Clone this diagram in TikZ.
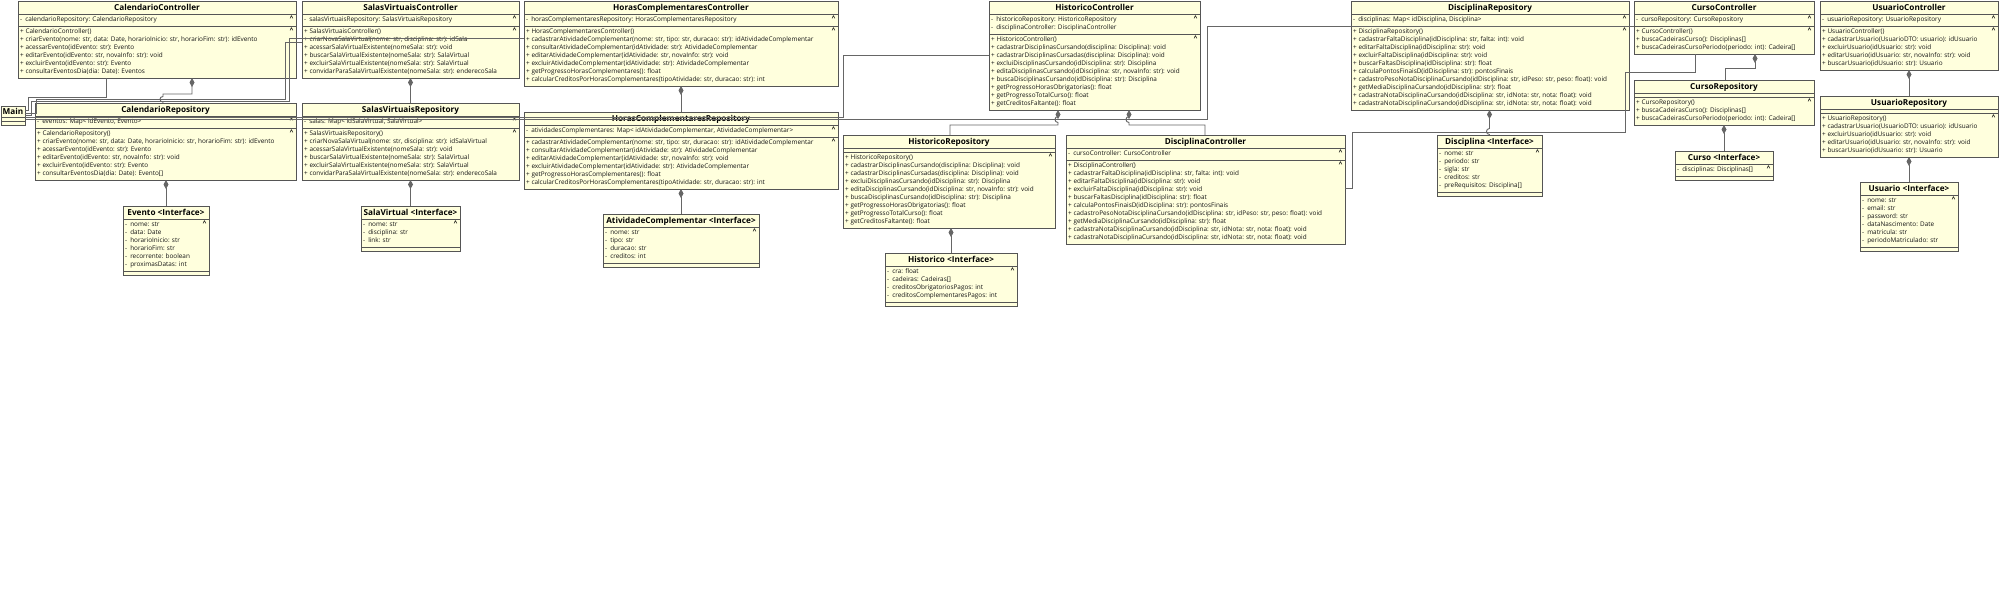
\documentclass[tikz,border=0pt]{standalone}
\usepackage{fontspec}
\setmainfont{Open Sans}
\usetikzlibrary{arrows.meta}
\pgfdeclarelayer{background}
\pgfsetlayers{background,main}
\definecolor{boxfill}{HTML}{FFFFDD}
\definecolor{boxline}{HTML}{555555}
\definecolor{txt}{HTML}{151515}
\definecolor{wire}{HTML}{666666}
\newcommand\titleh{13}
\newcommand\clsbegin[5]{%
  \def\cname{#1}\def\cxa{#2}\def\cya{#3}\def\cxb{#4}%
  \pgfmathsetmacro\cmid{(#2+#4)/2}%
  \pgfmathsetmacro\ctitley{#3+\titleh/2}%
  \node[ctitle] at (\cmid,\ctitley) {#5};%
  \pgfmathsetmacro\ccur{#3+\titleh}%
}
\newcommand\comp[2]{%
  \draw[sepline] (\cxa,\ccur) -- (\cxb,\ccur);%
  \ifnum#1=1\relax\node[caret] at (\cxb-4.5,\ccur+4.2) {\textasciicircum};\fi
  \pgfmathsetmacro\cline{\ccur+5.5}%
  #2%
  \pgfmathsetmacro\ccur{\cline-1.5}%
}
\newcommand\li[1]{\node[row] at (\cxa+2,\cline) {#1};\pgfmathsetmacro\cline{\cline+8}}
\newcommand\uattr[1]{\li{-\hspace{3pt}#1}}
\newcommand\umeth[1]{\li{+ #1}}
\newcommand\clsend{%
  \pgfmathsetmacro\cw{\cxb-\cxa}%
  \pgfmathsetmacro\chh{\ccur-\cya}%
  \begin{pgfonlayer}{background}
    \node[cbox,minimum width=\cw pt,minimum height=\chh pt,anchor=north west] (\cname) at (\cxa,\cya) {};
  \end{pgfonlayer}%
}
\tikzset{
  cbox/.style={fill=boxfill,draw=boxline,line width=0.9pt,inner sep=0pt,outer sep=0pt},
  sepline/.style={draw=boxline,line width=0.7pt},
  ctitle/.style={inner sep=0pt,font=\bfseries\fontsize{8.2}{9}\selectfont,text=black,text height=6pt,text depth=0pt},
  row/.style={anchor=west,inner sep=0pt,font=\fontsize{6.4}{7}\selectfont,text=txt,text height=4.6pt,text depth=1.4pt},
  caret/.style={inner sep=0pt,font=\bfseries\fontsize{6.5}{6.5}\selectfont,text=black},
  conn/.style={draw=wire,line width=0.9pt},
  comp/.style={conn,arrows={Diamond[length=9pt,width=5pt]-}}
}
\begin{document}
\begin{tikzpicture}[x=1pt,y=-1pt]
\begin{pgfonlayer}{background}
\fill[white] (0,0) rectangle (2000,600);
\end{pgfonlayer}
\useasboundingbox (0,0) rectangle (2000,600);

% ---------- Main
\renewcommand\titleh{11}
\clsbegin{main}{1}{106}{25}{Main}
\comp{0}{}\comp{0}{}
\clsend
\renewcommand\titleh{13}

% ---------- Calendario
\clsbegin{ccal}{18}{1}{296}{CalendarioController}
\comp{1}{\uattr{calendarioRepository: CalendarioRepository}}
\comp{1}{\umeth{CalendarioController()}
\umeth{criarEvento(nome: str, data: Date, horarioInicio: str, horarioFim: str): idEvento}
\umeth{acessarEvento(idEvento: str): Evento}
\umeth{editarEvento(idEvento: str, novaInfo: str): void}
\umeth{excluirEvento(idEvento: str): Evento}
\umeth{consultarEventosDia(dia: Date): Eventos}}
\clsend

\clsbegin{rcal}{35}{103}{296}{CalendarioRepository}
\comp{1}{\uattr{eventos: Map< idEvento, Evento>}}
\comp{1}{\umeth{CalendarioRepository()}
\umeth{criarEvento(nome: str, data: Date, horarioInicio: str, horarioFim: str): idEvento}
\umeth{acessarEvento(idEvento: str): Evento}
\umeth{editarEvento(idEvento: str, novaInfo: str): void}
\umeth{excluirEvento(idEvento: str): Evento}
\umeth{consultarEventosDia(dia: Date): Evento[]}}
\clsend

\clsbegin{evento}{123}{206}{209}{Evento <Interface>}
\comp{1}{\uattr{nome: str}\uattr{data: Date}\uattr{horarioInicio: str}\uattr{horarioFim: str}\uattr{recorrente: boolean}\uattr{proximasDatas: int}}
\comp{0}{}
\clsend

% ---------- Salas
\clsbegin{csal}{302}{1}{519}{SalasVirtuaisController}
\comp{1}{\uattr{salasVirtuaisRepository: SalasVirtuaisRepository}}
\comp{1}{\umeth{SalasVirtuaisController()}
\umeth{criarNovaSalaVirtual(nome: str, disciplina: str): idSala}
\umeth{acessarSalaVirtualExistente(nomeSala: str): void}
\umeth{buscarSalaVirtualExistente(nomeSala: str): SalaVirtual}
\umeth{excluirSalaVirtualExistente(nomeSala: str): SalaVirtual}
\umeth{convidarParaSalaVirtualExistente(nomeSala: str): enderecoSala}}
\clsend

\clsbegin{rsal}{302}{103}{519}{SalasVirtuaisRepository}
\comp{1}{\uattr{salas: Map< idSalaVirtual, SalaVirtual>}}
\comp{1}{\umeth{SalasVirtuaisRepository()}
\umeth{criarNovaSalaVirtual(nome: str, disciplina: str): idSalaVirtual}
\umeth{acessarSalaVirtualExistente(nomeSala: str): void}
\umeth{buscarSalaVirtualExistente(nomeSala: str): SalaVirtual}
\umeth{excluirSalaVirtualExistente(nomeSala: str): SalaVirtual}
\umeth{convidarParaSalaVirtualExistente(nomeSala: str): enderecoSala}}
\clsend

\clsbegin{sala}{361}{206}{460}{SalaVirtual <Interface>}
\comp{1}{\uattr{nome: str}\uattr{disciplina: str}\uattr{link: str}}
\comp{0}{}
\clsend

% ---------- Horas
\clsbegin{chor}{524}{1}{838}{HorasComplementaresController}
\comp{1}{\uattr{horasComplementaresRepository: HorasComplementaresRepository}}
\comp{1}{\umeth{HorasComplementaresController()}
\umeth{cadastrarAtividadeComplementar(nome: str, tipo: str, duracao: str): idAtividadeComplementar}
\umeth{consultarAtividadeComplementar(idAtividade: str): AtividadeComplementar}
\umeth{editarAtividadeComplementar(idAtividade: str, novaInfo: str): void}
\umeth{excluirAtividadeComplementar(idAtividade: str): AtividadeComplementar}
\umeth{getProgressoHorasComplementares(): float}
\umeth{calcularCreditosPorHorasComplementares(tipoAtividade: str, duracao: str): int}}
\clsend

\clsbegin{rhor}{524}{112}{838}{HorasComplementaresRepository}
\comp{1}{\uattr{atividadesComplementares: Map< idAtividadeComplementar, AtividadeComplementar>}}
\comp{1}{\umeth{cadastrarAtividadeComplementar(nome: str, tipo: str, duracao: str): idAtividadeComplementar}
\umeth{consultarAtividadeComplementar(idAtividade: str): AtividadeComplementar}
\umeth{editarAtividadeComplementar(idAtividade: str, novaInfo: str): void}
\umeth{excluirAtividadeComplementar(idAtividade: str): AtividadeComplementar}
\umeth{getProgressoHorasComplementares(): float}
\umeth{calcularCreditosPorHorasComplementares(tipoAtividade: str, duracao: str): int}}
\clsend

\clsbegin{ativ}{603}{214}{759}{AtividadeComplementar <Interface>}
\comp{1}{\uattr{nome: str}\uattr{tipo: str}\uattr{duracao: str}\uattr{creditos: int}}
\comp{0}{}
\clsend

% ---------- Historico
\clsbegin{chis}{989}{1}{1200}{HistoricoController}
\comp{1}{\uattr{historicoRepository: HistoricoRepository}\uattr{disciplinaController: DisciplinaController}}
\comp{1}{\umeth{HistoricoController()}
\umeth{cadastrarDisciplinasCursando(disciplina: Disciplina): void}
\umeth{cadastrarDisciplinasCursadas(disciplina: Disciplina): void}
\umeth{excluiDisciplinasCursando(idDisciplina: str): Disciplina}
\umeth{editaDisciplinasCursando(idDisciplina: str, novaInfo: str): void}
\umeth{buscaDisciplinasCursando(idDisciplina: str): Disciplina}
\umeth{getProgressoHorasObrigatorias(): float}
\umeth{getProgressoTotalCurso(): float}
\umeth{getCreditosFaltante(): float}}
\clsend

\clsbegin{rhis}{843}{135}{1055}{HistoricoRepository}
\comp{0}{}
\comp{1}{\umeth{HistoricoRepository()}
\umeth{cadastrarDisciplinasCursando(disciplina: Disciplina): void}
\umeth{cadastrarDisciplinasCursadas(disciplina: Disciplina): void}
\umeth{excluiDisciplinasCursando(idDisciplina: str): Disciplina}
\umeth{editaDisciplinasCursando(idDisciplina: str, novaInfo: str): void}
\umeth{buscaDisciplinasCursando(idDisciplina: str): Disciplina}
\umeth{getProgressoHorasObrigatorias(): float}
\umeth{getProgressoTotalCurso(): float}
\umeth{getCreditosFaltante(): float}}
\clsend

\clsbegin{historico}{885}{253}{1017}{Historico <Interface>}
\comp{1}{\uattr{cra: float}\uattr{cadeiras: Cadeiras[]}\uattr{creditosObrigatoriosPagos: int}\uattr{creditosComplementaresPagos: int}}
\comp{0}{}
\clsend

% ---------- Disciplina
\clsbegin{cdis}{1066}{135}{1345}{DisciplinaController}
\comp{1}{\uattr{cursoController: CursoController}}
\comp{1}{\umeth{DisciplinaController()}
\umeth{cadastrarFaltaDisciplina(idDisciplina: str, falta: int): void}
\umeth{editarFaltaDisciplina(idDisciplina: str): void}
\umeth{excluirFaltaDisciplina(idDisciplina: str): void}
\umeth{buscarFaltasDisciplina(idDisciplina: str): float}
\umeth{calculaPontosFinaisD(idDisciplina: str): pontosFinais}
\umeth{cadastroPesoNotaDisciplinaCursando(idDisciplina: str, idPeso: str, peso: float): void}
\umeth{getMediaDisciplinaCursando(idDisciplina: str): float}
\umeth{cadastraNotaDisciplinaCursando(idDisciplina: str, idNota: str, nota: float): void}
\umeth{cadastraNotaDisciplinaCursando(idDisciplina: str, idNota: str, nota: float): void}}
\clsend

\clsbegin{rdis}{1351}{1}{1629}{DisciplinaRepository}
\comp{1}{\uattr{disciplinas: Map< idDisciplina, Disciplina>}}
\comp{1}{\umeth{DisciplinaRepository()}
\umeth{cadastrarFaltaDisciplina(idDisciplina: str, falta: int): void}
\umeth{editarFaltaDisciplina(idDisciplina: str): void}
\umeth{excluirFaltaDisciplina(idDisciplina: str): void}
\umeth{buscarFaltasDisciplina(idDisciplina: str): float}
\umeth{calculaPontosFinaisD(idDisciplina: str): pontosFinais}
\umeth{cadastroPesoNotaDisciplinaCursando(idDisciplina: str, idPeso: str, peso: float): void}
\umeth{getMediaDisciplinaCursando(idDisciplina: str): float}
\umeth{cadastraNotaDisciplinaCursando(idDisciplina: str, idNota: str, nota: float): void}
\umeth{cadastraNotaDisciplinaCursando(idDisciplina: str, idNota: str, nota: float): void}}
\clsend

\clsbegin{disciplina}{1437}{135}{1542}{Disciplina <Interface>}
\comp{1}{\uattr{nome: str}\uattr{periodo: str}\uattr{sigla: str}\uattr{creditos: str}\uattr{preRequisitos: Disciplina[]}}
\comp{0}{}
\clsend

% ---------- Curso
\clsbegin{ccur}{1634}{1}{1814}{CursoController}
\comp{1}{\uattr{cursoRepository: CursoRepository}}
\comp{1}{\umeth{CursoController()}
\umeth{buscaCadeirasCurso(): Disciplinas[]}
\umeth{buscaCadeirasCursoPeriodo(periodo: int): Cadeira[]}}
\clsend

\clsbegin{rcur}{1634}{80}{1814}{CursoRepository}
\comp{0}{}
\comp{1}{\umeth{CursoRepository()}
\umeth{buscaCadeirasCurso(): Disciplinas[]}
\umeth{buscaCadeirasCursoPeriodo(periodo: int): Cadeira[]}}
\clsend

\clsbegin{curso}{1675}{151}{1773}{Curso <Interface>}
\comp{1}{\uattr{disciplinas: Disciplinas[]}}
\comp{0}{}
\clsend

% ---------- Usuario
\clsbegin{cusu}{1820}{1}{1998}{UsuarioController}
\comp{1}{\uattr{usuarioRepository: UsuarioRepository}}
\comp{1}{\umeth{UsuarioController()}
\umeth{cadastrarUsuario(UsuarioDTO: usuario): idUsuario}
\umeth{excluirUsuario(idUsuario: str): void}
\umeth{editarUsuario(idUsuario: str, novaInfo: str): void}
\umeth{buscarUsuario(idUsuario: str): Usuario}}
\clsend

\clsbegin{rusu}{1820}{96}{1998}{UsuarioRepository}
\comp{0}{}
\comp{1}{\umeth{UsuarioRepository()}
\umeth{cadastrarUsuario(UsuarioDTO: usuario): idUsuario}
\umeth{excluirUsuario(idUsuario: str): void}
\umeth{editarUsuario(idUsuario: str, novaInfo: str): void}
\umeth{buscarUsuario(idUsuario: str): Usuario}}
\clsend

\clsbegin{usuario}{1860}{182}{1958}{Usuario <Interface>}
\comp{1}{\uattr{nome: str}\uattr{email: str}\uattr{password: str}\uattr{dataNascimento: Date}\uattr{matricula: str}\uattr{periodoMatriculado: str}}
\comp{0}{}
\clsend

% ---------- compositions (with line hops where they cross)
\draw[comp] (192,0 |- ccal.south) |- (163,94) -- (163,96.5)
  .. controls (159,96.5) and (159,102) .. (163,102) -- (163,0 |- rcal.north);
\draw[comp] (evento.north |- rcal.south) -- (evento.north);
\draw[comp] (csal.south) -- (rsal.north);
\draw[comp] (sala.north |- rsal.south) -- (sala.north);
\draw[comp] (chor.south) -- (rhor.north);
\draw[comp] (ativ.north |- rhor.south) -- (ativ.north);
\draw[comp] (1058,0 |- chis.south) -- (1058,116.5)
  .. controls (1054,116.5) and (1054,122.5) .. (1058,122.5) |- (950,125) -- (950,0 |- rhis.north);
\draw[comp] (1129,0 |- chis.south) -- (1129,116.5)
  .. controls (1125,116.5) and (1125,122.5) .. (1129,122.5) |- (1205,125) -- (1205,0 |- cdis.north);
\draw[comp] (historico.north |- rhis.south) -- (historico.north);
\draw[comp] (disciplina.north |- rdis.south) -- (1489.5,128.5)
  .. controls (1485.5,128.5) and (1485.5,134.5) .. (1489.5,134.5) -- (disciplina.north);
\draw[comp] (1755,0 |- ccur.south) |- (1725,68) -- (1725,0 |- rcur.north);
\draw[comp] (curso.north |- rcur.south) -- (curso.north);
\draw[comp] (cusu.south) -- (rusu.north);
\draw[comp] (usuario.north |- rusu.south) -- (usuario.north);

% ---------- associations
\draw[conn] (main.east |- 0,110) -| (28,97) -| (106,0 |- ccal.south);
\draw[conn] (main.east |- 0,113) -| (36,99) -| (285,42) -- (csal.west |- 0,42);
\draw[conn] (main.east |- 0,115.5) -| (31,101) -| (289,38) -- (chor.west |- 0,38);
\draw[conn] (main.east |- 0,117.5) -| (843,55) -- (chis.west |- 0,55);
\draw[conn] (main.east |- 0,119.5) -| (1207,26) -- (ccur.west |- 0,26);
\draw[conn] (cdis.east |- 0,188) -| (1352,132) -| (1625,72) -| (1695,0 |- ccur.south);
\end{tikzpicture}
\end{document}
